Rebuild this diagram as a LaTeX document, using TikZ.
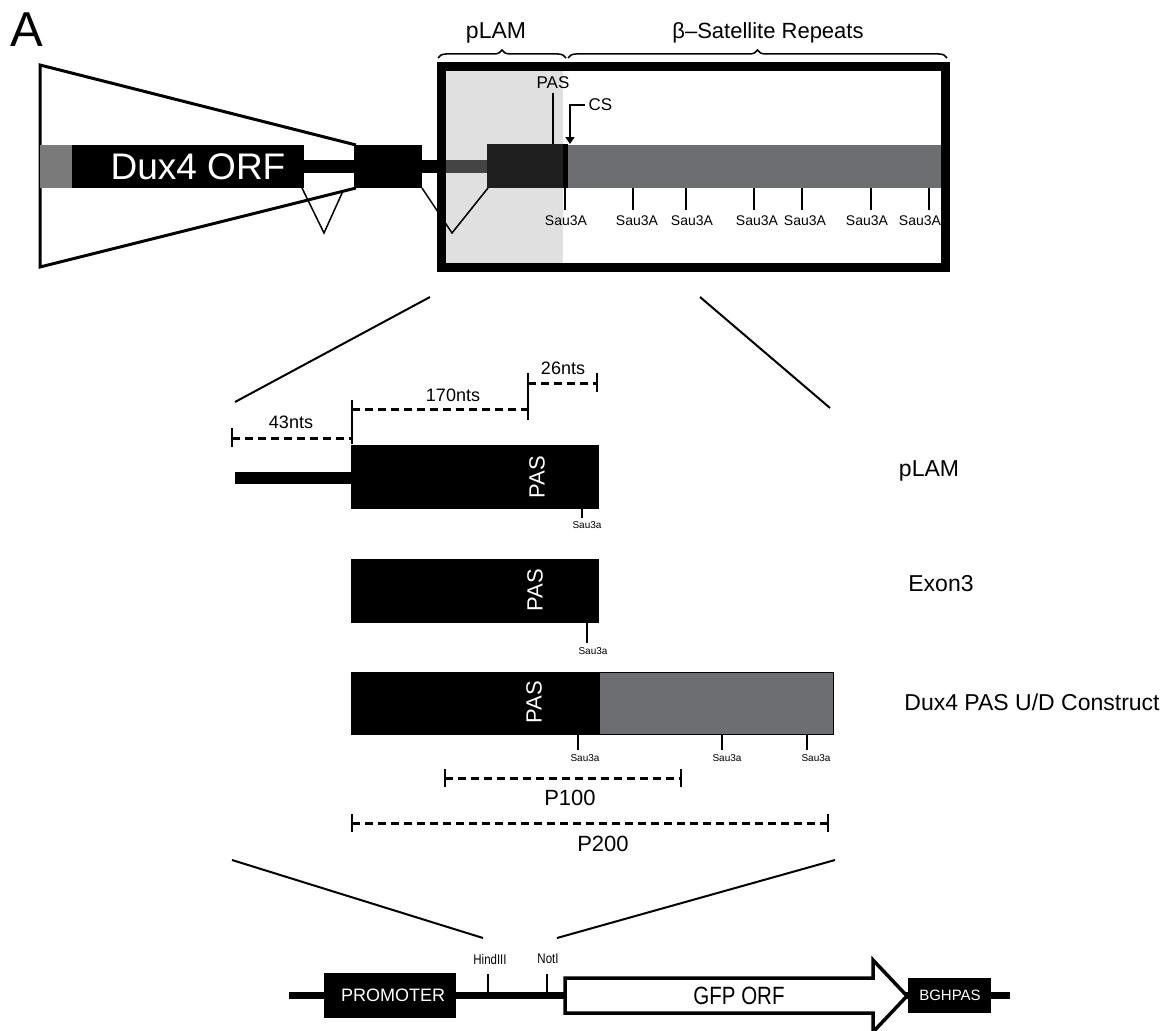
\documentclass[tikz,border=0pt]{standalone}
\definecolor{RepGray}{HTML}{6D6E71}
\definecolor{ShadeGray}{HTML}{E0E0E0}
\definecolor{LeadGray}{HTML}{7A7A7A}
\definecolor{DarkExon}{HTML}{1F1F1F}
\definecolor{DarkBar}{HTML}{444444}
\usepackage{fontspec}
\setmainfont{Liberation Sans}
\newfontfamily\narrowsf[FakeStretch=0.82]{Liberation Sans}
\usepackage{tikz}
\usetikzlibrary{arrows.meta, positioning, decorations.pathreplacing}

\begin{document}
\begin{tikzpicture}[x=1pt, y=-1pt,
    blk/.style={fill=black, inner sep=0pt, outer sep=0pt, anchor=north west},
    rep/.style={fill=RepGray, draw=black, line width=1pt, inner sep=0pt, outer sep=0pt, anchor=north west},
    thin/.style={line width=1.5pt},
    site/.style={line width=2.2pt},
    dimline/.style={line width=3pt, dash pattern=on 8pt off 5pt},
    dimtick/.style={line width=2pt},
    zoomline/.style={line width=2pt},
    big/.style={font=\fontsize{23}{23}\selectfont},
    mid/.style={font=\fontsize{18}{18}\selectfont},
    pas/.style={rotate=90, text=white, font=\fontsize{22}{22}\selectfont},
    tiny/.style={font=\fontsize{10}{10}\selectfont},
    sau/.style={font=\fontsize{14}{14}\selectfont}
  ]
  \useasboundingbox (0,0) rectangle (1174,1030);

  % ---- top: Dux4 locus
  \node[font=\fontsize{49}{49}\selectfont] (panel) at (27,30) {A};
  \fill[ShadeGray] (446,70) rectangle (563,263);
  \draw[line width=3pt, line join=miter] (356,145) -- (40,65) -- (40,267) -- (356,188);
  \fill[LeadGray] (40,145) rectangle (72,188);
  \node[blk, minimum width=232pt, minimum height=43pt] (orf) at (72,145) {};
  \node[text=white, font=\fontsize{37}{37}\selectfont] (orflab) at (198,167) {Dux4 ORF};
  \fill (304,160) rectangle (354,173);
  \node[blk, minimum width=68pt, minimum height=43pt] (ex2) at (354,145) {};
  \fill (422,160) rectangle (443,173);
  \fill[DarkBar] (443,160) rectangle (487,173);
  \node[blk, fill=DarkExon, minimum width=76pt, minimum height=44pt] (ex3) at (487,144) {};
  \fill (563,144) rectangle (568,188);
  \node[rep, draw=none, minimum width=375pt, minimum height=43pt] (bsat) at (568,145) {};
  \draw[thin] (302,188) -- (324,233) -- (343,191);
  \draw[thin] (422,188) -- (452,233) -- (488,188);
  \draw[line width=9pt] (441,66.5) rectangle (945.5,267.5);

  \node[font=\fontsize{23}{23}\selectfont] (plamtop) at (496,33) {pLAM};
  \node[font=\fontsize{22}{22}\selectfont] (bsattop) at (768,33) {β–Satellite Repeats};
  \draw[thin, decorate, decoration={brace, amplitude=8pt}] (438,58) -- (566,58);
  \draw[thin, decorate, decoration={brace, amplitude=8pt}] (568,58) -- (947,58);

  \node[font=\fontsize{17}{17}\selectfont] (paslab) at (553,83) {PAS};
  \draw[thin] (paslab.south) -- (paslab.south |- ex3.north);
  \node[font=\fontsize{17}{17}\selectfont, anchor=west] (cslab) at (585,105) {CS};
  \coordinate (csend) at (570,144);
  \draw[thin, -{Triangle[width=9pt, length=7pt]}] (cslab.west) -| (csend);

  \foreach \x/\lx in {565/566, 633/637, 686/692, 754/757, 802/805, 871/867, 929/920} {
    \draw[thin] (\x,188) -- (\x,210);
    \node[sau] (sau\x) at (\lx,221) {Sau3A};
  }

  % ---- zoom into pLAM
  \coordinate (zl1) at (430,297);
  \coordinate (zl2) at (235,402);
  \coordinate (zr1) at (700,297);
  \coordinate (zr2) at (830,408);
  \draw[zoomline] (zl1) -- (zl2);
  \draw[zoomline] (zr1) -- (zr2);

  \draw[dimline] (232,438) -- (352,438);
  \draw[dimtick] (232,428) -- (232,447);
  \draw[dimtick] (352,400) -- (352,444);
  \node[mid] (d43) at (291,422) {43nts};
  \draw[dimline] (352,409) -- (528,409);
  \draw[dimtick] (528,373) -- (528,420);
  \node[mid] (d170) at (453,395) {170nts};
  \draw[dimline] (528,383) -- (597,383);
  \draw[dimtick] (597,373) -- (597,392);
  \node[mid] (d26) at (563,368) {26nts};

  % pLAM
  \fill (235,472) rectangle (351,484);
  \node[blk, minimum width=248pt, minimum height=64pt] (plamex) at (351,445) {};
  \node[pas] (plampas) at (537,477) {PAS};
  \draw[site] (582,509) -- (582,518);
  \node[tiny] (plamsau) at (587,525) {Sau3a};
  \node[big] (plamlab) at (929,471) {pLAM};

  % Exon3
  \node[blk, minimum width=248pt, minimum height=64pt] (exonb) at (351,559) {};
  \node[pas] (exonpas) at (535,590) {PAS};
  \draw[site] (587,623) -- (587,643);
  \node[tiny] (exonsau) at (593,651) {Sau3a};
  \node[big] (exonlab) at (941,584) {Exon3};

  % construct
  \node[blk, minimum width=248pt, minimum height=63pt] (conpas) at (351,672) {};
  \node[rep, minimum width=234pt, minimum height=62pt] (conrep) at (599,672) {};
  \node[pas] (conpaslab) at (534,702) {PAS};
  \foreach \x/\lx in {578/585, 722/727, 807/816} {
    \draw[site] (\x,735) -- (\x,750);
    \node[tiny] (consau\x) at (\lx,758) {Sau3a};
  }
  \node[big] (conlab) at (1032,702) {Dux4 PAS U/D Construct};

  % probes
  \draw[dimline] (445,778) -- (681,778);
  \draw[dimtick] (445,769) -- (445,787);
  \draw[dimtick] (681,769) -- (681,787);
  \node[font=\fontsize{22}{22}\selectfont] (p100) at (570,798) {P100};
  \draw[dimline] (352,823) -- (828,823);
  \draw[dimtick] (352,814) -- (352,832);
  \draw[dimtick] (828,814) -- (828,832);
  \node[font=\fontsize{22}{22}\selectfont] (p200) at (603,844) {P200};

  % ---- reporter vector
  \coordinate (bl1) at (232,860);
  \coordinate (bl2) at (483,938);
  \coordinate (br1) at (835,860);
  \coordinate (br2) at (557,938);
  \draw[zoomline] (bl1) -- (bl2);
  \draw[zoomline] (br1) -- (br2);

  \draw[line width=7.5pt] (289,995.5) -- (1010,995.5);
  \node[blk, minimum width=132pt, minimum height=45pt] (prom) at (324,973) {};
  \node[text=white, font=\fontsize{18}{18}\selectfont] (promlab) at (393,995) {PROMOTER};
  \draw[site] (488,974) -- (488,992);
  \node[font=\narrowsf\fontsize{14}{14}\selectfont] (hind) at (490,959) {HindIII};
  \draw[site] (547,974) -- (547,992);
  \node[font=\narrowsf\fontsize{14}{14}\selectfont] (noti) at (548,959) {NotI};
  \draw[line width=3.5pt, fill=white, line join=miter]
    (565,978) -- (873,978) -- (873,960) -- (907,996) -- (873,1032) -- (873,1013) -- (565,1013) -- cycle;
  \node[font=\narrowsf\fontsize{25}{25}\selectfont] (gfp) at (739,996) {GFP ORF};
  \node[blk, minimum width=83pt, minimum height=35pt] (bgh) at (908,978) {};
  \node[text=white, font=\fontsize{15}{15}\selectfont] (bghlab) at (950,995) {BGHPAS};
\end{tikzpicture}
\end{document}
